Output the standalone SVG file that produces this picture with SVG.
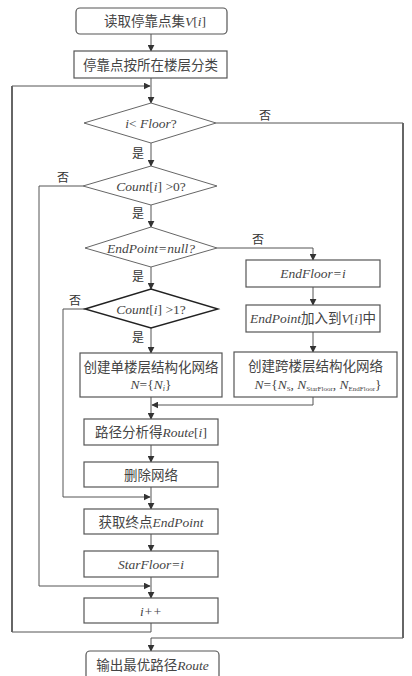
<svg xmlns="http://www.w3.org/2000/svg" width="412" height="676" viewBox="0 0 412 676">
<defs>
<marker id="ah" viewBox="0 0 10 10" refX="9" refY="5" markerWidth="7" markerHeight="7" orient="auto" markerUnits="userSpaceOnUse">
<path d="M0,0 L10,5 L0,10 Z" fill="#333"/>
</marker>
<style>
.box{fill:#fff;stroke:#555;stroke-width:1.2}
.dia{fill:#fff;stroke:#666;stroke-width:1}
.dk{stroke:#222;stroke-width:1.4}
.ln{fill:none;stroke:#555;stroke-width:1}
.thick{fill:none;stroke:#666;stroke-width:2}
.t{font-family:"Liberation Serif","Noto Sans CJK SC",serif;font-size:13.5px;fill:#444;text-anchor:middle}
.i{font-style:italic}
.lab{font-family:"Noto Sans CJK SC",serif;font-size:12px;fill:#333;text-anchor:middle}
</style>
</defs>
<rect width="412" height="676" fill="#fff"/>

<g id="connectors">
<path class="ln" d="M151,34 V51" marker-end="url(#ah)"/>
<path class="ln" d="M151,78 V103" marker-end="url(#ah)"/>
<path class="ln" d="M151,623 V632 H12 V86 H150" marker-end="url(#ah)"/>
<path class="thick" d="M12,632 V86"/>
<path class="ln" d="M216,123 H403 V638 H151 V651" marker-end="url(#ah)"/>
<path class="thick" d="M403,123 V638"/>
<path class="ln" d="M151,143 V166" marker-end="url(#ah)"/>
<path class="ln" d="M83,186 H39 V586 H150" marker-end="url(#ah)"/>
<path class="ln" d="M151,205 V227" marker-end="url(#ah)"/>
<path class="ln" d="M217,248 H313 V260" marker-end="url(#ah)"/>
<path class="ln" d="M313,287 V305" marker-end="url(#ah)"/>
<path class="ln" d="M313,332 V352" marker-end="url(#ah)"/>
<path class="ln" d="M313,397 V405 H152" marker-end="url(#ah)"/>
<path class="ln" d="M151,267 V289" marker-end="url(#ah)"/>
<path class="ln" d="M85,309 H63 V497 H150" marker-end="url(#ah)"/>
<path class="ln" d="M151,328 V353" marker-end="url(#ah)"/>
<path class="ln" d="M151,397 V419" marker-end="url(#ah)"/>
<path class="ln" d="M151,445 V462" marker-end="url(#ah)"/>
<path class="ln" d="M151,487 V509" marker-end="url(#ah)"/>
<path class="ln" d="M151,534 V551" marker-end="url(#ah)"/>
<path class="ln" d="M151,577 V598" marker-end="url(#ah)"/>
<text class="lab" x="265" y="120">否</text>
<text class="lab" x="138" y="158">是</text>
<text class="lab" x="63" y="182">否</text>
<text class="lab" x="138" y="218">是</text>
<text class="lab" x="258" y="244">否</text>
<text class="lab" x="138" y="281">是</text>
<text class="lab" x="75" y="305">否</text>
<text class="lab" x="138" y="342">是</text>
</g>

<g id="read">
<rect class="box" x="76" y="8" width="151" height="26" rx="4"/>
<text class="t" x="155" y="26">读取停靠点集<tspan class="i">V</tspan>[<tspan class="i">i</tspan>]</text>
</g>
<g id="classify">
<rect class="box" x="74" y="51" width="153" height="27"/>
<text class="t" x="150.5" y="69.5">停靠点按所在楼层分类</text>
</g>
<g id="d1">
<polygon class="dia" points="84,123 151,103 216,123 151,143"/>
<text class="t" x="151" y="127.5"><tspan class="i">i</tspan>&lt; <tspan class="i">Floor</tspan>?</text>
</g>
<g id="d2">
<polygon class="dia" points="83,186 151,166 217,186 151,205"/>
<text class="t" x="151" y="190.5"><tspan class="i">Count</tspan>[<tspan class="i">i</tspan>] &gt;0?</text>
</g>
<g id="d3">
<polygon class="dia" points="85,248 151,227 217,248 151,267"/>
<text class="t i" x="151" y="252.5">EndPoint=null?</text>
</g>
<g id="endfloor">
<rect class="box" x="246" y="260" width="134" height="27"/>
<text class="t i" x="313" y="278">EndFloor=i</text>
</g>
<g id="addpoint">
<rect class="box" x="246" y="305" width="134" height="27"/>
<text class="t" x="313" y="323"><tspan class="i">EndPoint</tspan>加入到<tspan class="i">V</tspan>[<tspan class="i">i</tspan>]中</text>
</g>
<g id="d4">
<polygon class="dia dk" points="85,309 151,289 218,309 151,328"/>
<text class="t" x="151" y="313.5"><tspan class="i">Count</tspan>[<tspan class="i">i</tspan>] &gt;1?</text>
</g>
<g id="single">
<rect class="box" x="80" y="353" width="142" height="44"/>
<text class="t" x="151" y="372">创建单楼层结构化网络</text>
<text class="t" x="151" y="389"><tspan class="i">N</tspan>={<tspan class="i">N</tspan><tspan class="i" font-size="8" dy="2">i</tspan><tspan dy="-2">}</tspan></text>
</g>
<g id="cross">
<rect class="box" x="234" y="352" width="163" height="45"/>
<text class="t" x="315.5" y="371">创建跨楼层结构化网络</text>
<text class="t" x="318" y="389"><tspan class="i">N</tspan>={<tspan class="i">N</tspan><tspan font-size="7" dy="2">S</tspan><tspan dy="-2">, </tspan><tspan class="i">N</tspan><tspan font-size="7" dy="2">StarFloor</tspan><tspan dy="-2">, </tspan><tspan class="i">N</tspan><tspan font-size="7" dy="2">EndFloor</tspan><tspan dy="-2">}</tspan></text>
</g>
<g id="route">
<rect class="box" x="84" y="419" width="134" height="26"/>
<text class="t" x="151" y="437">路径分析得<tspan class="i">Route</tspan>[<tspan class="i">i</tspan>]</text>
</g>
<g id="delete">
<rect class="box" x="84" y="462" width="134" height="25"/>
<text class="t" x="151" y="479.5">删除网络</text>
</g>
<g id="getend">
<rect class="box" x="84" y="509" width="134" height="25"/>
<text class="t" x="151" y="526.5">获取终点<tspan class="i">EndPoint</tspan></text>
</g>
<g id="starfloor">
<rect class="box" x="84" y="551" width="134" height="26"/>
<text class="t i" x="151" y="569">StarFloor=i</text>
</g>
<g id="inc">
<rect class="box" x="84" y="598" width="134" height="25"/>
<text class="t i" x="151" y="615.5">i++</text>
</g>
<g id="output">
<rect class="box" x="86" y="651" width="133" height="32" rx="4"/>
<text class="t" x="152.5" y="669.5">输出最优路径<tspan class="i">Route</tspan></text>
</g>
</svg>
